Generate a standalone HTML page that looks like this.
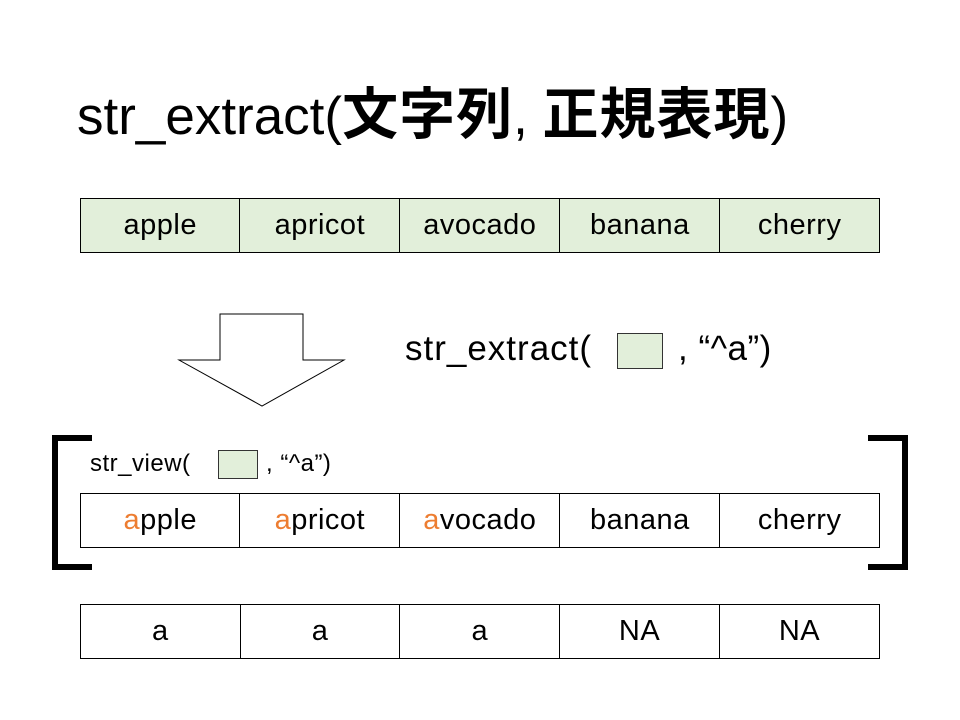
<!DOCTYPE html>
<html><head><meta charset="utf-8"><style>
body{margin:0;width:960px;height:720px;background:#fff;position:relative;overflow:hidden;font-family:"Liberation Sans","Noto Sans CJK JP",sans-serif;color:#000}
.t{position:absolute;white-space:nowrap}
table{position:absolute;left:80px;border-collapse:collapse;width:800px}
td{width:160px;border:1px solid #000;text-align:center;font-size:29px;letter-spacing:0.5px;padding:0;height:53px}
.g td{background:#e2efda}
.o{color:#ed7d31}
.b{position:absolute;background:#e2efda;border:1px solid #333}
.j{font-size:56px;letter-spacing:1px}
</style></head><body>
<div class="t" style="left:77px;top:70px;font-size:53px">str_extract(<b class="j">文字列</b>,&nbsp;<b class="j">正規表現</b>)</div>
<table class="g" style="top:198px"><tr><td>apple</td><td>apricot</td><td>avocado</td><td>banana</td><td>cherry</td></tr></table>
<svg style="position:absolute;left:0;top:0" width="960" height="720">
<polygon points="220,314 303,314 303,360 344,360 262,406 179,360 220,360" fill="#fff" stroke="#000" stroke-width="1"/>
<path d="M92,438 H55 V567 H92" fill="none" stroke="#000" stroke-width="6"/>
<path d="M868,438 H905 V567 H868" fill="none" stroke="#000" stroke-width="6"/>
</svg>
<div class="t" style="left:405px;top:329px;font-size:35px;letter-spacing:1px">str_extract(</div>
<div class="b" style="left:617px;top:333px;width:44px;height:34px"></div>
<div class="t" style="left:678px;top:329px;font-size:35px;letter-spacing:0.5px">, “^a”)</div>
<div class="t" style="left:90px;top:450px;font-size:24px;letter-spacing:0.5px">str_view(</div>
<div class="b" style="left:218px;top:450px;width:38px;height:27px"></div>
<div class="t" style="left:266px;top:450px;font-size:24px;letter-spacing:0.5px">, “^a”)</div>
<table style="top:493px"><tr><td><span class="o">a</span>pple</td><td><span class="o">a</span>pricot</td><td><span class="o">a</span>vocado</td><td>banana</td><td>cherry</td></tr></table>
<table style="top:604px"><tr><td>a</td><td>a</td><td>a</td><td>NA</td><td>NA</td></tr></table>
</body></html>
